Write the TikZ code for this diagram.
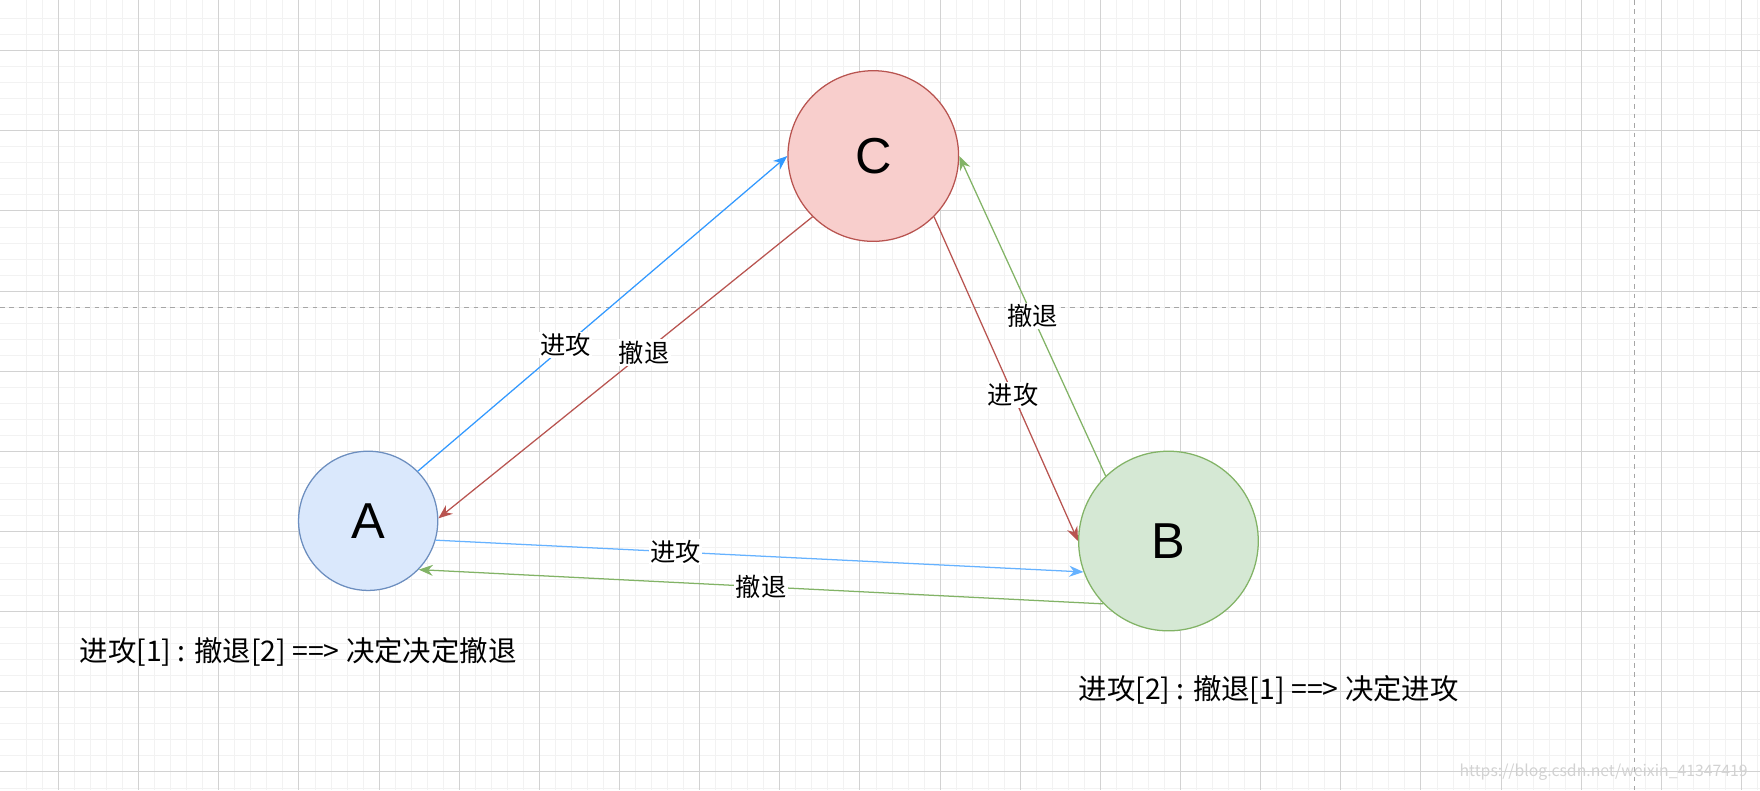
\documentclass[tikz,border=0pt]{standalone}
\usepackage{fontspec}
\setmainfont{Noto Sans CJK SC}
\newfontfamily\latinsans{Liberation Sans}
\usetikzlibrary{arrows.meta}
\definecolor{abluefill}{HTML}{DAE8FC}
\definecolor{abluedraw}{HTML}{6C8EBF}
\definecolor{credfill}{HTML}{F8CECC}
\definecolor{creddraw}{HTML}{B85450}
\definecolor{bgreenfill}{HTML}{D5E8D4}
\definecolor{bgreendraw}{HTML}{82B366}
\definecolor{attackblue}{HTML}{3399FF}
\definecolor{attacklight}{HTML}{66B2FF}

\begin{document}
\begin{tikzpicture}[x=0.025cm, y=-0.025cm,
    general/.style={circle, draw, thick, font=\latinsans\fontsize{32}{38}\selectfont, inner sep=0pt},
    msg/.style={-{Stealth[length=9pt,width=7pt]}, thick},
    msglabel/.style={fill=white, text=black, inner sep=1pt, font=\fontsize{16}{19}\selectfont},
    note/.style={anchor=west, font=\fontsize{18}{22}\selectfont}
]
\useasboundingbox (0,0) rectangle (1568,704);

% background grid
\foreach \k in {-2,...,110} {
    \draw[gray!10] ({52+\k*14.28}, 0) -- ({52+\k*14.28}, 704);
    \draw[gray!10] (0, {45+\k*14.28}) -- (1568, {45+\k*14.28});
}
\foreach \k in {-1,...,22} {
    \draw[gray!35] ({52+\k*71.4}, 0) -- ({52+\k*71.4}, 704);
    \draw[gray!35] (0, {45+\k*71.4}) -- (1568, {45+\k*71.4});
}
\draw[gray!70, dashed] (0, 274) -- (1568, 274);
\draw[gray!70, dashed] (1456, 0) -- (1456, 704);

% generals
\node[general, fill=abluefill, draw=abluedraw, minimum size=3.1cm] (A) at (328, 464) {A};
\node[general, fill=credfill, draw=creddraw, minimum size=3.8cm] (C) at (778, 139) {C};
\node[general, fill=bgreenfill, draw=bgreendraw, minimum size=4cm] (B) at (1041, 482) {B};

% messages
\draw[msg, attackblue] (A.45) -- node[msglabel, pos=0.4] {进攻} (C.180);
\draw[msg, creddraw] (C.225) -- node[msglabel, pos=0.45] {撤退} (A.2);
\draw[msg, creddraw] (C.315) -- node[msglabel, pos=0.55] {进攻} (B.180);
\draw[msg, bgreendraw] (B.134) -- node[msglabel, pos=0.5] {撤退} (C.0);
\draw[msg, attacklight] (A.-16) -- node[msglabel, pos=0.37] {进攻} (B.200);
\draw[msg, bgreendraw] (B.224) -- node[msglabel, pos=0.5] {撤退} (A.316);

% decisions
\node[note] (decA) at (66, 581) {进攻[1] : 撤退[2] ==> 决定决定撤退};
\node[note] (decB) at (956, 615) {进攻[2] : 撤退[1] ==> 决定进攻};
\node[anchor=east, gray!35, font=\fontsize{10}{12}\selectfont] (mark) at (1562, 688) {https://blog.csdn.net/weixin\_41347419};
\end{tikzpicture}
\end{document}
